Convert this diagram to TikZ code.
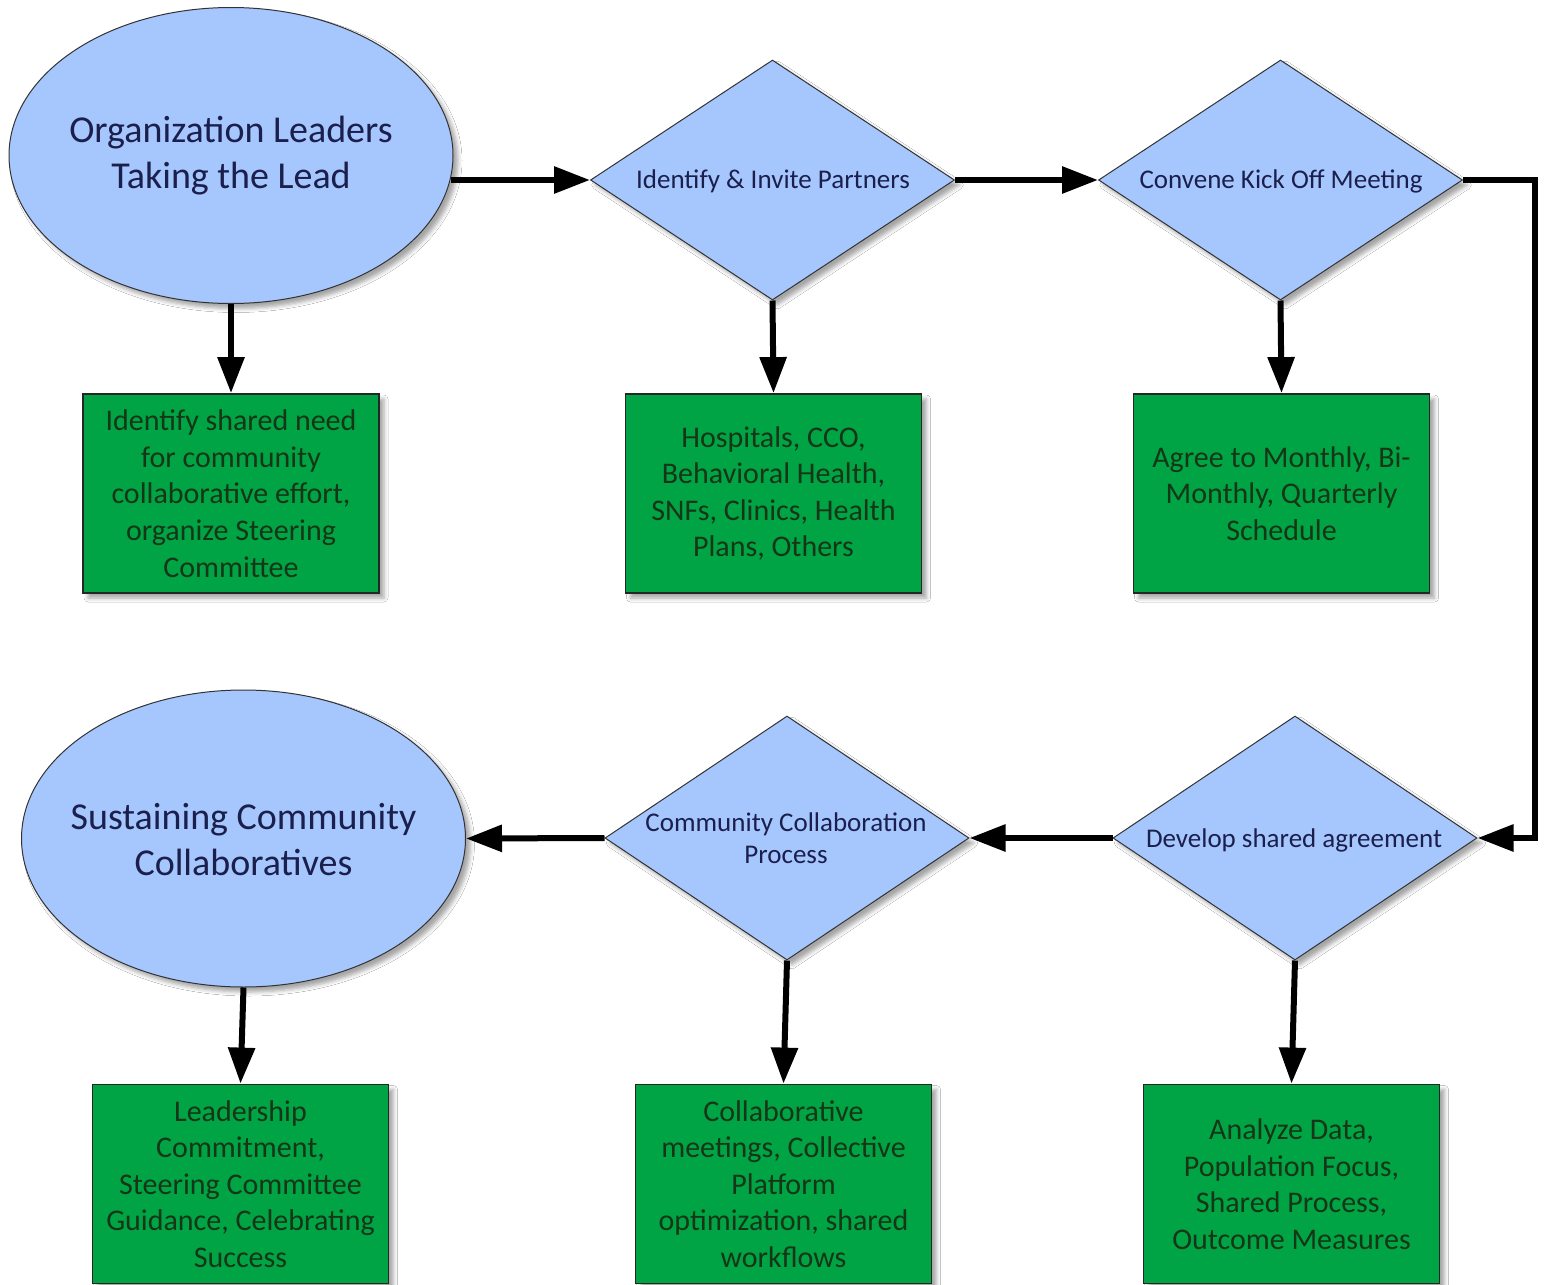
\documentclass[tikz,border=0pt]{standalone}
\usepackage{fontspec}
\setmainfont{Carlito}
\usetikzlibrary{shapes.geometric,arrows.meta,shadows.blur}
\definecolor{shapeblue}{HTML}{A6C6FE}
\definecolor{boxgreen}{HTML}{00A444}
\definecolor{navytext}{HTML}{1B1F4C}
\definecolor{greentext}{HTML}{173517}
\begin{document}
\begin{tikzpicture}[x=0.5pt,y=-0.5pt,
  shadowed/.style={blur shadow={shadow xshift=2.5pt,shadow yshift=-2.5pt,shadow opacity=35,shadow blur radius=2pt}},
  oval/.style={ellipse,draw=black!80,line width=0.5pt,fill=shapeblue,minimum width=222pt,minimum height=148pt,inner sep=0pt,shadowed},
  dia/.style={diamond,draw=black!80,line width=0.5pt,fill=shapeblue,minimum width=182pt,minimum height=120pt,inner sep=0pt,shadowed},
  gbox/.style={rectangle,draw=black!85,line width=0.9pt,fill=boxgreen,minimum width=148pt,minimum height=99.5pt,inner sep=0pt,align=center,
    font=\fontsize{15pt}{18.3pt}\selectfont,text=greentext,shadowed},
  otext/.style={align=center,font=\fontsize{19pt}{23pt}\selectfont,text=navytext,inner sep=0pt},
  dtext/.style={align=center,font=\fontsize{13.5pt}{16pt}\selectfont,text=navytext,inner sep=0pt},
  arr/.style={line width=3pt,line join=miter,-{Triangle[length=18pt,width=13pt]}}]
\fill[white] (0,0) rectangle (1548,1285);
\useasboundingbox (0,0) rectangle (1548,1285);

% shapes
\node[oval] (e1) at (231,155.5) {};
\node[otext] (e1t) at (231,156) {Organization Leaders\\Taking the Lead};
\node[dia] (d1) at (772.5,180) {};
\node[dtext] (d1t) at (773,181) {Identify \& Invite Partners};
\node[dia] (d2) at (1280.5,180) {};
\node[dtext] (d2t) at (1281,181) {Convene Kick Off Meeting};

\node[gbox] (b1) at (231,493.5) {Identify shared need\\for community\\collaborative effort,\\organize Steering\\Committee};
\node[gbox] (b2) at (773.5,493.5) {Hospitals, CCO,\\Behavioral Health,\\SNFs, Clinics, Health\\Plans, Others};
\node[gbox] (b3) at (1281.5,493.5) {Agree to Monthly, Bi-\\Monthly, Quarterly\\Schedule};

\node[oval,minimum height=148.5pt] (e2) at (243.5,838.5) {};
\node[otext] (e2t) at (243.5,840) {Sustaining Community\\Collaboratives};
\node[dia,minimum height=122pt] (d3) at (787,838) {};
\node[dtext] (d3t) at (786,838) {Community Collaboration\\Process};
\node[dia,minimum height=122pt] (d4) at (1295,838) {};
\node[dtext] (d4t) at (1294,840) {Develop shared agreement};

\node[gbox] (b4) at (240.5,1184) {Leadership\\Commitment,\\Steering Committee\\Guidance, Celebrating\\Success};
\node[gbox] (b5) at (783.5,1184) {Collaborative\\meetings, Collective\\Platform\\optimization, shared\\workflows};
\node[gbox] (b6) at (1291.5,1184) {Analyze Data,\\Population Focus,\\Shared Process,\\Outcome Measures};

% connectors
\coordinate (turn) at (1535,180);
\draw[arr] (e1.-6.4 |- d1.west) -- (d1.west);
\draw[arr] (d1.east) -- (d2.west);
\draw[arr] (d2.east) -- (turn) |- (d4.east);
\draw[arr] (d4.west) -- (d3.east);
\draw[arr] (d3.west) -- (e2.east);
\draw[arr] (e1.south) -- (b1.north);
\draw[arr] (d1.south) -- (b2.north);
\draw[arr] (d2.south) -- (b3.north);
\draw[arr] (e2.south) -- (b4.north);
\draw[arr] (d3.south) -- (b5.north);
\draw[arr] (d4.south) -- (b6.north);
\end{tikzpicture}
\end{document}
